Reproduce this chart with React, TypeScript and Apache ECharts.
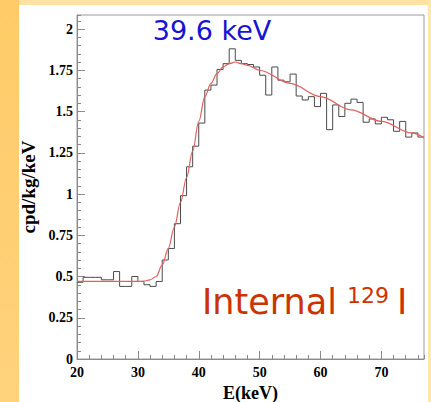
import React, { useEffect, useRef } from "react";
import * as echarts from "echarts";

// Histogram: lower bin edges (keV) and counts (cpd/kg/keV)
const binEdges = [20,21,22,23,24,25,26,27,28,29,30,31,32,33,34,35,36,37,38,39,40,41,42,43,44,45,46,47,48,49,50,51,52,53,54,55,56,57,58,59,60,61,62,63,64,65,66,67,68,69,70,71,72,73,74,75,76];
const binCounts = [0.465,0.495,0.495,0.495,0.48,0.48,0.53,0.44,0.44,0.50,0.47,0.45,0.44,0.47,0.60,0.67,0.82,0.99,1.165,1.29,1.43,1.63,1.66,1.755,1.79,1.88,1.81,1.79,1.785,1.77,1.72,1.60,1.77,1.69,1.68,1.727,1.594,1.57,1.59,1.53,1.61,1.39,1.54,1.47,1.55,1.575,1.555,1.435,1.455,1.425,1.465,1.45,1.38,1.44,1.345,1.37,1.345];
const lastEdge = 77;

// Fit curve
const fitE = [20,25,30,31,32,33,34,35,36,37,38,39,40,41,42,43,44,45,46,47,48,50,55,60,65,70,75,77];
const fitV = [0.47,0.47,0.47,0.472,0.48,0.50,0.57,0.67,0.80,0.95,1.10,1.26,1.44,1.59,1.67,1.73,1.77,1.79,1.80,1.79,1.78,1.75,1.67,1.59,1.51,1.44,1.37,1.34];

const xTickLabels = ["20","30","40","50","60","70"];
const yTickLabels = ["0","0.25","0.5","0.75","1","1.25","1.5","1.75","2"];

const serif = "'Liberation Serif', 'Times New Roman', serif";
const sans = "'DejaVu Sans', sans-serif";

export default function App() {
  const ref = useRef<HTMLDivElement>(null);
  useEffect(() => {
    const chart = echarts.init(ref.current!, null, { renderer: "svg" });
    const histData: number[][] = binEdges.map((e, i) => [e, binCounts[i]]);
    histData.push([lastEdge, binCounts[binCounts.length - 1]]);
    const fitData = fitE.map((e, i) => [e, fitV[i]]);

    const tickFmt = (labels: string[]) => (v: number) => {
      const s = String(Math.round(v * 1000) / 1000);
      return labels.indexOf(s) >= 0 ? s : "";
    };
    const labelStyle = {
      color: "#000",
      fontFamily: serif,
      fontWeight: "bold" as const,
      fontSize: 14,
    };
    const axisGray = "#8a8a8a";

    chart.setOption({
      animation: false,
      backgroundColor: "#FFE2A2",
      graphic: [
        { type: "rect", z: -10, shape: { x: 0, y: 0, width: 19, height: 402 },
          style: { fill: new echarts.graphic.LinearGradient(0, 0, 0, 1, [
            { offset: 0, color: "#FFCB68" }, { offset: 1, color: "#FFD27C" }]) } },
        { type: "rect", z: -10, shape: { x: 428, y: 0, width: 3, height: 402 }, style: { fill: "#FFE7AC" } },
        { type: "rect", z: -9, shape: { x: 19, y: 5, width: 409, height: 397 }, style: { fill: "#FFFFFF" } },
        { type: "text", z: 10, x: 212, y: 30,
          style: { text: "39.6 keV", fill: "#1414D2", fontFamily: sans, fontSize: 27,
            align: "center", verticalAlign: "middle", textAlign: "center", textVerticalAlign: "middle" } },
        { type: "text", z: 10, x: 202, y: 302,
          style: { text: "Internal", fill: "#CC3300", fontFamily: sans, fontSize: 35,
            align: "left", verticalAlign: "middle", textAlign: "left", textVerticalAlign: "middle" } },
        { type: "text", z: 10, x: 347, y: 295,
          style: { text: "129", fill: "#CC3300", fontFamily: sans, fontSize: 22,
            align: "left", verticalAlign: "middle", textAlign: "left", textVerticalAlign: "middle" } },
        { type: "text", z: 10, x: 397, y: 302,
          style: { text: "I", fill: "#CC3300", fontFamily: sans, fontSize: 35,
            align: "left", verticalAlign: "middle", textAlign: "left", textVerticalAlign: "middle" } },
      ],
      grid: { left: 77, right: 7, top: 15, bottom: 43, show: true, borderColor: "#9a9a9a", borderWidth: 1,
        backgroundColor: "transparent", containLabel: false, outerBoundsMode: "none" },
      xAxis: [
        {
          type: "value", min: 20, max: 77, interval: 10, position: "bottom",
          axisLine: { show: true, lineStyle: { color: axisGray, width: 1 } },
          axisTick: { show: true, inside: true, length: 8, lineStyle: { color: axisGray } },
          axisLabel: { ...labelStyle, margin: 6, showMaxLabel: false, formatter: tickFmt(xTickLabels) },
          splitLine: { show: false },
          name: "E(keV)", nameLocation: "middle", nameGap: 22,
          nameTextStyle: { color: "#000", fontFamily: serif, fontWeight: "bold", fontSize: 18 },
        },
        {
          type: "value", min: 20, max: 77, interval: 2, position: "bottom", offset: 0,
          axisLine: { show: false },
          axisTick: { show: true, inside: true, length: 4, lineStyle: { color: axisGray } },
          axisLabel: { show: false },
          splitLine: { show: false },
        },
      ],
      yAxis: [
        {
          type: "value", min: 0, max: 2.085, interval: 0.25, position: "left",
          axisLine: { show: true, lineStyle: { color: axisGray, width: 1 } },
          axisTick: { show: true, inside: true, length: 8, lineStyle: { color: axisGray } },
          axisLabel: { ...labelStyle, margin: 4, showMaxLabel: false, formatter: tickFmt(yTickLabels) },
          splitLine: { show: false },
          name: "cpd/kg/keV", nameLocation: "middle", nameGap: 37, nameRotate: 90,
          nameTextStyle: { color: "#000", fontFamily: serif, fontWeight: "bold", fontSize: 19 },
        },
        {
          type: "value", min: 0, max: 2.085, interval: 0.05, position: "left", offset: 0,
          axisLine: { show: false },
          axisTick: { show: true, inside: true, length: 4, lineStyle: { color: axisGray } },
          axisLabel: { show: false },
          splitLine: { show: false },
        },
      ],
      series: [
        {
          type: "line", step: "end", data: histData, xAxisIndex: 0, yAxisIndex: 0,
          symbol: "none", z: 3,
          lineStyle: { color: "#4a4a4a", width: 1 },
        },
        {
          type: "line", smooth: 0.35, smoothMonotone: "x", data: fitData, xAxisIndex: 0, yAxisIndex: 0,
          symbol: "none", z: 4,
          lineStyle: { color: "#E4605E", width: 1.2 },
        },
      ],
    });
    return () => chart.dispose();
  }, []);
  return <div ref={ref} style={{ position: "fixed", left: 0, top: 0, width: 431, height: 402 }} />;
}
